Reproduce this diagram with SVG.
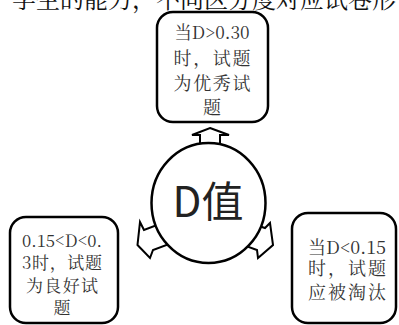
<svg xmlns="http://www.w3.org/2000/svg" width="399" height="325" viewBox="0 0 399 325">
<style>
.box{fill:#fff;stroke:#000;stroke-width:2.5}
.arr{fill:#fff;stroke:#000;stroke-width:2;stroke-linejoin:miter}
.t{font-family:'Noto Serif CJK SC','Liberation Serif','Noto Sans CJK SC',serif;fill:#333;text-anchor:middle}
.hdr{font-family:'Noto Serif CJK SC','Liberation Serif','Noto Sans CJK SC',serif;fill:#111;font-size:24px}
.big{font-family:'Noto Sans CJK SC','Liberation Sans',sans-serif;fill:#222;font-size:42px;text-anchor:middle}
</style>
<rect width="399" height="325" fill="#fff"/>
<text class="hdr" x="12" y="8" textLength="384" lengthAdjust="spacing">学生的能力，不同区分度对应试卷形</text>
<g id="connectors">
<polygon class="arr" points="210,128 229,135 220,135 220,150 200,150 200,135 192,135"/>
<polygon class="arr" points="137.5,245 150,258 153,250 172,243 163.5,222.5 144,230 140,222"/>
<polygon class="arr" points="273,245 270,223 265,228 250,223 243,245 257,250 258,258"/>
</g>
<g id="center">
<ellipse class="box" cx="208.5" cy="203" rx="57" ry="60"/>
<text class="big" x="208" y="217">D值</text>
</g>
<g id="top">
<rect class="box" x="157" y="12" width="111" height="110" rx="16"/>
<text class="t" font-size="18" x="212" y="39" textLength="75" lengthAdjust="spacingAndGlyphs">当D&gt;0.30</text>
<text class="t" font-size="18" x="212" y="65" textLength="77" lengthAdjust="spacing">时，试题</text>
<text class="t" font-size="18" x="212" y="90" textLength="77" lengthAdjust="spacing">为优秀试</text>
<text class="t" font-size="18" x="212" y="114">题</text>
</g>
<g id="left">
<rect class="box" x="10" y="217" width="108" height="106" rx="16"/>
<text class="t" font-size="17" x="62" y="247" textLength="80" lengthAdjust="spacingAndGlyphs">0.15&lt;D&lt;0.</text>
<text class="t" font-size="17" x="62" y="269" textLength="80" lengthAdjust="spacing">3时，试题</text>
<text class="t" font-size="17" x="62" y="292" textLength="72" lengthAdjust="spacing">为良好试</text>
<text class="t" font-size="17" x="62" y="314">题</text>
</g>
<g id="right">
<rect class="box" x="292" y="213" width="104" height="110" rx="16"/>
<text class="t" font-size="18" x="347" y="254" textLength="78" lengthAdjust="spacingAndGlyphs">当D&lt;0.15</text>
<text class="t" font-size="18" x="347" y="275" textLength="78" lengthAdjust="spacing">时，试题</text>
<text class="t" font-size="18" x="347" y="299" textLength="78" lengthAdjust="spacing">应被淘汰</text>
</g>
</svg>
